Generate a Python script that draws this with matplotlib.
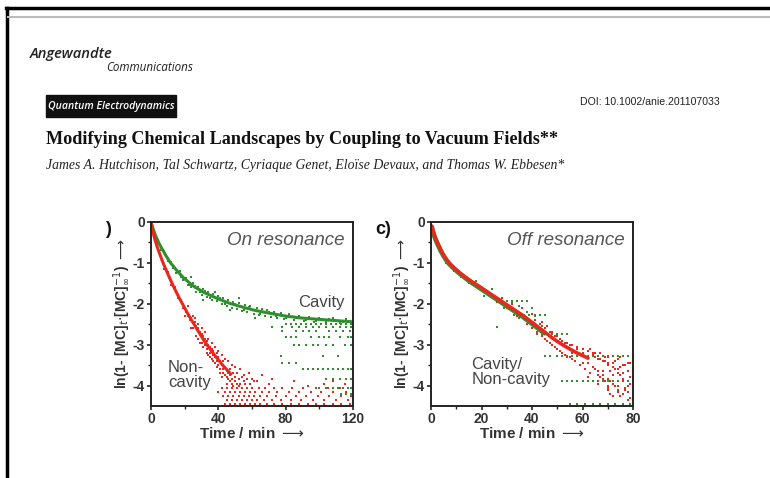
import matplotlib.pyplot as plt
import numpy as np
from matplotlib.lines import Line2D
from matplotlib.patches import Rectangle

plt.rcParams['axes.unicode_minus'] = False
plt.rcParams['font.family'] = ['Liberation Sans', 'DejaVu Sans']

W, H = 770, 478
GREEN = "#2f8f2f"
RED = "#e8281e"
TXT = "#333333"

# ---- panel b (on resonance), cavity: main band ----
on_cav_t = [0.3, 0.8, 1.2, 1.7, 2.2, 2.8, 3.3, 3.9, 4.5, 5.1, 5.8, 6.5, 7.2, 8.0, 8.8, 9.6,
            10.5, 11.3, 12.2, 13.1, 14.0, 15.0, 16.0, 17.0, 18.1, 19.2, 20.3, 21.5, 22.6, 23.8,
            25.0, 26.3, 27.6, 29.0, 30.4, 31.9, 33.4, 35.0, 36.6, 38.3, 40.0, 41.8, 43.6, 45.5,
            47.5, 49.5, 51.6, 53.7, 55.9, 58.2, 60.5, 62.9, 65.3, 67.8, 70.4, 73.0, 75.7, 78.5,
            81.3, 84.2, 87.1, 90.1, 93.2, 96.3, 99.5, 102.7, 106.0, 109.3, 112.7, 116.1, 119.5]
on_cav_y = [-0.04, -0.1, -0.16, -0.22, -0.28, -0.34, -0.39, -0.44, -0.5, -0.55, -0.6, -0.65,
            -0.7, -0.76, -0.82, -0.87, -0.93, -0.98, -1.03, -1.07, -1.12, -1.17, -1.22, -1.26,
            -1.31, -1.36, -1.4, -1.44, -1.48, -1.52, -1.56, -1.6, -1.63, -1.66, -1.7, -1.73,
            -1.76, -1.79, -1.82, -1.85, -1.88, -1.91, -1.94, -1.97, -2.0, -2.02, -2.05, -2.07,
            -2.1, -2.12, -2.15, -2.17, -2.19, -2.21, -2.23, -2.25, -2.27, -2.29, -2.31, -2.32,
            -2.34, -2.35, -2.36, -2.37, -2.38, -2.39, -2.4, -2.41, -2.42, -2.43, -2.44]
# scattered cavity points around the band
on_cav_st = [15, 17, 19, 21, 22, 24, 25, 27, 28, 30, 31, 33, 34, 36, 37, 39, 40, 42, 43, 45,
             46, 48, 49, 51, 52, 54, 56, 57, 59, 61, 63, 64, 66, 68, 69, 71, 73, 75, 77, 79,
             82, 85, 88, 91, 94, 97, 100, 104, 108, 112, 116, 119, 24, 38, 52, 31, 47, 62,
             3, 5, 6, 8, 10, 12, 13, 15, 18, 20, 23, 26, 29, 32, 35, 41, 44, 50, 55, 58, 65,
             70, 74, 80, 86, 92, 98, 106, 114]
on_cav_sy = [-1.25, -1.2, -1.42, -1.38, -1.55, -1.6, -1.48, -1.7, -1.58, -1.78, -1.65, -1.84,
             -1.7, -1.9, -1.76, -1.93, -1.8, -2.0, -1.86, -2.05, -1.9, -2.1, -1.95, -2.12, -1.98,
             -2.17, -2.02, -2.2, -2.05, -2.24, -2.1, -2.28, -2.13, -2.3, -2.16, -2.33, -2.2,
             -2.35, -2.22, -2.38, -2.26, -2.4, -2.3, -2.42, -2.32, -2.44, -2.34, -2.45, -2.36,
             -2.46, -2.38, -2.47, -1.35, -1.7, -1.85, -1.9, -2.15, -2.35,
             -0.42, -0.52, -0.68, -0.72, -0.96, -0.99, -1.12, -1.14, -1.35, -1.36, -1.55,
             -1.56, -1.72, -1.68, -1.86, -1.86, -2.0, -2.0, -2.15, -2.08, -2.24, -2.2, -2.3,
             -2.36, -2.34, -2.4, -2.41, -2.38, -2.45]
# cavity rows at late times (level, times)
on_cav_rows = [
    (-2.5, [80, 83, 86, 89, 92, 95, 98, 101, 104, 107, 110, 113, 116, 119]),
    (-2.57, [72, 78, 84, 88, 92, 96, 100, 104, 108, 112, 116, 119]),
    (-2.67, [78, 86, 90, 94, 98, 106, 110, 114, 118]),
    (-2.82, [80, 83, 86, 95, 100, 103, 106, 112, 117, 119]),
    (-3.0, [85, 88, 92, 96, 99, 104, 108, 115, 119]),
    (-3.28, [77, 102, 111]),
    (-3.44, [78, 82, 86]),
    (-3.59, [90, 93, 96, 99, 102, 105, 108, 111, 114, 117, 119]),
    (-3.83, [104, 108, 112, 116, 119]),
    (-4.05, [100, 104, 108, 111, 114, 117, 119]),
    (-4.2, [113, 116, 119]),
]

# ---- panel b, non-cavity ----
on_non_t = [0.3, 0.8, 1.3, 1.8, 2.4, 3.0, 3.6, 4.3, 5.0, 5.8, 6.6, 7.5, 8.4, 9.3, 10.3, 11.3,
            12.3, 13.4, 14.5, 15.6, 16.8, 18.0, 19.2, 20.5, 21.8, 23.1, 24.5, 25.9, 27.3, 28.8,
            30.3, 31.8, 33.4, 35.0, 36.6, 38.3, 40.0, 41.8, 43.6, 45.5, 47.4]
on_non_y = [-0.07, -0.17, -0.26, -0.35, -0.44, -0.52, -0.6, -0.68, -0.76, -0.85, -0.94, -1.03,
            -1.12, -1.2, -1.3, -1.39, -1.48, -1.58, -1.67, -1.76, -1.86, -1.95, -2.04, -2.14,
            -2.24, -2.33, -2.43, -2.52, -2.62, -2.72, -2.82, -2.92, -3.01, -3.1, -3.19, -3.28,
            -3.37, -3.46, -3.55, -3.63, -3.72]
on_non_st = [20, 22, 24, 26, 27, 28, 29, 30, 31, 32, 33, 34, 35, 36, 37, 38, 39, 40, 41, 42,
             43, 44, 45, 46, 47, 48, 49, 50, 51, 52, 53, 55, 56, 58, 60, 63, 66, 70, 72, 85,
             93, 103, 108, 115,
             25, 25, 26, 27, 28, 28, 29, 30, 30, 31, 32, 32, 33, 33, 34, 34, 35, 35, 36, 36,
             37, 37, 38, 38, 39, 39, 40, 40, 41, 41, 42, 42, 43, 43, 44, 44, 45, 45, 46, 46,
             47, 47, 48, 48, 49, 50, 50, 51, 52, 53, 54, 55, 57, 59, 61,
             5, 8, 10, 12, 14, 16, 18, 19, 21, 22, 23, 24]
on_non_sy = [-2.3, -2.05, -2.6, -2.35, -2.8, -2.5, -2.95, -2.6, -3.05, -2.7, -3.2, -2.85, -3.3,
             -2.95, -3.4, -3.05, -3.55, -3.15, -3.6, -3.25, -3.7, -3.35, -3.8, -3.4, -3.9, -3.5,
             -4.0, -3.55, -3.7, -4.0, -3.6, -3.75, -3.95, -3.7, -3.85, -3.9, -3.75, -3.95, -3.85,
             -3.9, -4.0, -3.95, -3.9, -3.95,
             -2.3, -2.6, -2.45, -2.55, -2.85, -2.6, -2.7, -2.75, -2.95, -2.8, -3.0, -2.85,
             -2.9, -3.1, -3.0, -3.25, -3.05, -3.2, -3.1, -3.35, -3.25, -3.15, -3.45, -3.3,
             -3.2, -3.4, -3.5, -3.3, -3.4, -3.7, -3.5, -3.8, -3.6, -3.4, -3.75, -3.55, -3.65,
             -3.95, -3.7, -3.85, -3.6, -3.75, -3.85, -3.95, -3.7, -3.9, -3.8, -3.95, -3.85,
             -3.95, -3.8, -3.9, -3.85, -3.95, -3.9,
             -0.72, -1.15, -1.22, -1.55, -1.6, -1.85, -1.9, -2.1, -2.2, -2.3, -2.4, -2.35]
on_non_rows = [
    (-4.05, [42, 45, 48, 51, 54, 57, 60, 64, 68, 73, 78, 84, 90, 98, 105, 112]),
    (-4.15, [40, 44, 47, 50, 53, 56, 59, 62, 66, 70, 75, 82, 88, 95, 101, 108, 116]),
    (-4.25, [43, 46, 49, 52, 55, 58, 61, 65, 69, 74, 80, 86, 92, 99, 106, 113, 119]),
    (-4.35, [45, 48, 51, 54, 57, 60, 63, 67, 72, 77, 83, 89, 96, 103, 110, 117]),
    (-4.45, [44, 47, 50, 53, 56, 59, 62, 65, 69, 73, 78, 83, 88, 93, 98, 103, 108, 113, 118]),
]

# ---- panel c (off resonance), non-cavity ----
off_non_t = [0.3, 0.7, 1.2, 1.8, 2.5, 3.3, 4.2, 5.2, 6.3, 7.5, 8.8, 10.2, 11.7, 13.2, 14.8,
             16.4, 18.0, 19.7, 21.4, 23.1, 24.8, 26.5, 28.2, 29.9, 31.6, 33.3, 35.0, 36.7, 38.4,
             40.1, 41.8, 43.5, 45.2, 46.9, 48.6, 50.3, 52.0, 53.7, 55.4, 57.1, 58.8, 60.5, 62.2]
off_non_y = [-0.1, -0.2, -0.3, -0.4, -0.5, -0.6, -0.72, -0.83, -0.93, -1.02, -1.1, -1.18, -1.26,
             -1.33, -1.4, -1.47, -1.53, -1.6, -1.67, -1.74, -1.81, -1.88, -1.95, -2.02, -2.09,
             -2.16, -2.23, -2.3, -2.38, -2.46, -2.54, -2.62, -2.7, -2.78, -2.86, -2.93, -3.0,
             -3.06, -3.12, -3.18, -3.23, -3.28, -3.33]
off_non_st = [26, 28, 30, 32, 34, 36, 38, 40, 42, 44, 45, 46, 47, 48, 49, 50, 51, 52, 53, 54,
              55, 56, 57, 58, 59, 60, 61, 62, 63, 64, 65, 66, 67, 68, 69, 70, 71, 72, 73, 74,
              75, 76, 77, 78, 79, 56, 60, 64, 68, 72, 76, 79, 62, 66, 70, 74, 78, 71, 75, 79,
              65, 69, 73, 77, 63, 67, 75, 79, 70, 74, 78,
              40, 41, 42, 43, 44, 45, 46, 47, 48, 49, 50, 51, 52, 53, 54, 55, 56, 57, 58, 59,
              60, 61, 62, 63, 64, 65, 66, 67, 68, 69, 70, 71, 72, 73, 74, 75, 76, 77, 78, 79,
              80, 62, 64, 66, 68, 70, 72, 74, 76, 78, 80, 70, 74, 78, 66, 70, 72, 76, 79, 80]
off_non_sy = [-1.95, -1.85, -2.1, -2.0, -2.3, -2.1, -2.5, -2.25, -2.7, -2.45, -2.85, -2.55,
              -2.95, -2.7, -3.05, -2.8, -3.15, -2.9, -3.25, -2.95, -3.3, -3.0, -3.4, -3.05,
              -3.5, -3.1, -3.6, -3.15, -3.7, -3.2, -3.3, -3.75, -3.35, -3.85, -3.4, -3.5, -3.9,
              -3.45, -3.6, -4.0, -3.55, -3.7, -4.05, -3.65, -3.8, -3.35, -3.45, -3.55, -3.65,
              -3.75, -3.85, -3.95, -3.8, -3.9, -4.0, -4.1, -4.15, -4.2, -4.25, -4.3, -3.2, -3.3,
              -3.4, -3.5, -3.1, -3.2, -3.3, -3.45, -4.05, -4.15, -4.35,
              -2.6, -2.4, -2.7, -2.5, -2.8, -2.6, -2.9, -2.7, -3.0, -2.8, -3.1, -2.85, -3.2,
              -2.95, -3.3, -3.0, -3.2, -3.4, -3.1, -3.5, -3.2, -3.6, -3.15, -3.7, -3.25, -3.6,
              -3.35, -3.8, -3.4, -3.9, -3.45, -3.65, -3.55, -4.0, -3.6, -3.75, -3.5, -4.1,
              -3.65, -3.8, -3.4, -3.45, -3.55, -3.65, -3.75, -3.85, -3.95, -3.7, -3.9, -4.0,
              -3.6, -3.3, -3.35, -3.45, -3.95, -4.1, -4.25, -4.2, -4.3, -3.9]

# ---- panel c, cavity ----
off_cav_t = [0.3, 0.8, 1.4, 2.1, 2.9, 3.8, 4.8, 5.9, 7.1, 8.4, 9.8, 11.3, 12.8, 14.4, 16.0,
             17.7, 19.4, 21.1, 22.8, 24.5, 26.2, 27.9, 29.6, 31.3, 33.0, 34.7, 36.4, 38.1, 39.8,
             41.5, 43.2, 44.9]
off_cav_y = [-0.12, -0.24, -0.36, -0.47, -0.58, -0.7, -0.81, -0.92, -1.02, -1.1, -1.18, -1.26,
             -1.33, -1.41, -1.48, -1.55, -1.62, -1.69, -1.76, -1.83, -1.9, -1.97, -2.04, -2.11,
             -2.18, -2.25, -2.32, -2.4, -2.48, -2.56, -2.64, -2.72]
off_cav_st = [6, 9, 12, 15, 18, 21, 24, 26, 29, 32, 35, 38, 41, 44, 40, 35]
off_cav_sy = [-1.0, -1.2, -1.35, -1.5, -1.45, -1.8, -1.65, -2.58, -2.1, -1.95, -2.35, -2.2,
              -2.3, -2.55, -2.1, -2.05]
off_cav_rows = [
    (-1.92, [28, 30, 32, 34, 36, 38]),
    (-2.27, [33, 35, 37, 39, 41, 43, 45]),
    (-2.75, [42, 44, 46, 48, 50, 52, 54]),
    (-3.28, [45, 47, 50, 52, 54, 56, 58, 60, 62, 64, 66, 68, 70, 72, 74, 76, 78, 80]),
    (-3.9, [52, 54, 56, 58, 60, 62, 64, 66, 68, 70, 72, 74, 76, 78, 80]),
    (-4.45, [55, 58, 61, 64, 67, 70, 73, 76, 79]),
]


def px(x, y):
    return x / W, 1 - y / H


fig = plt.figure(figsize=(W / 100, H / 100), dpi=100)

# page frame
fig.add_artist(Line2D([6 / W, 1], [1 - 8 / H] * 2, color="black", lw=2.5))
fig.add_artist(Line2D([7 / W] * 2, [0, 1 - 8 / H], color="black", lw=2.5))
fig.add_artist(Line2D([8 / W, 1], [1 - 17 / H] * 2, color="#bbbbbb", lw=1.5))

# header
fig.text(*px(30, 58), "Angewandte", family="Open Sans", style="italic",
         weight="semibold", fontsize=10.6, color="#222222", va="baseline")
fig.text(*px(106, 71), "Communications", family="Open Sans", style="italic",
         fontsize=8.4, color="#222222", va="baseline")
fig.add_artist(Rectangle(px(46, 117), 130 / W, 22 / H, color="#111111"))
fig.text(*px(111, 106), "Quantum Electrodynamics", family="Open Sans", style="italic",
         weight="semibold", fontsize=7.6, color="white", ha="center", va="center")
fig.text(*px(720, 102), "DOI: 10.1002/anie.201107033", family="Liberation Sans",
         fontsize=7.6, color="#222222", ha="right", va="center")
fig.text(*px(46, 139), "Modifying Chemical Landscapes by Coupling to Vacuum Fields**",
         family="Liberation Serif", weight="bold", fontsize=13.05, color="#111111", va="center")
fig.text(*px(46, 165), "James A. Hutchison, Tal Schwartz, Cyriaque Genet, Eloïse Devaux, "
         "and Thomas W. Ebbesen*", family="Liberation Serif", style="italic", fontsize=9.95,
         color="#222222", va="center")


def panel(left, xmax, xmaj, xmin):
    ax = fig.add_axes([left / W, (H - 406) / H, 202 / W, 184 / H])
    ax.set_xlim(0, xmax)
    ax.set_ylim(-4.5, 0)
    ax.set_xticks(np.arange(0, xmax + 1, xmaj))
    ax.set_xticks(np.arange(0, xmax + 1, xmin), minor=True)
    ax.set_yticks([0, -1, -2, -3, -4])
    ax.set_yticks([-0.5, -1.5, -2.5, -3.5], minor=True)
    for s in ax.spines.values():
        s.set_linewidth(1.4)
        s.set_color("#222222")
    ax.tick_params(which="major", length=3, width=1.2, colors="#222222", labelsize=10,
                   labelcolor=TXT, pad=1.5)
    ax.tick_params(which="minor", length=2, width=1, colors="#222222")
    for lab in ax.get_xticklabels() + ax.get_yticklabels():
        lab.set_fontweight("bold")
    ax.set_xlabel("Time / min $\\longrightarrow$", fontsize=11, fontweight="bold",
                  color=TXT, labelpad=0)
    ax.set_ylabel("ln(1- [MC]$_t$$\\cdot$[MC]$_\\infty^{-1}$) $\\longrightarrow$",
                  fontsize=10, fontweight="bold", color=TXT, labelpad=0)
    return ax


def draw(ax, bt, by, st, sy, rows, color, lw=2.2):
    ax.plot(bt, by, color=color, lw=lw, solid_capstyle="round", zorder=2)
    ax.scatter(st, sy, s=4, color=color, marker="s", lw=0, zorder=2)
    for level, ts in rows:
        ax.scatter(ts, np.full(len(ts), level), s=4, color=color, marker="s", lw=0, zorder=2)


ax1 = panel(151, 120, 40, 20)
draw(ax1, on_cav_t, on_cav_y, on_cav_st, on_cav_sy, on_cav_rows, GREEN)
draw(ax1, on_non_t, on_non_y, on_non_st, on_non_sy, on_non_rows, RED)
ax1.text(115, -0.45, "On resonance", style="italic", fontsize=13.5, color="#555555",
         ha="right", va="center")
ax1.text(115, -1.98, "Cavity", fontsize=12, color="#444444", ha="right", va="center")
ax1.text(10, -3.75, "Non-\ncavity", fontsize=12, color="#444444", ha="left", va="center",
         linespacing=1.0)

ax2 = panel(431, 80, 20, 10)
draw(ax2, off_cav_t, off_cav_y, off_cav_st, off_cav_sy, off_cav_rows, GREEN, lw=3.4)
draw(ax2, off_non_t, off_non_y, off_non_st, off_non_sy, [], RED, lw=2.6)
ax2.text(76.8, -0.45, "Off resonance", style="italic", fontsize=13.5, color="#555555",
         ha="right", va="center")
ax2.text(16, -3.68, "Cavity/\nNon-cavity", fontsize=12, color="#444444", ha="left",
         va="center", linespacing=1.0)

fig.text(*px(105, 229), ")", fontsize=13, weight="bold", color="#111111", va="center")
fig.text(*px(375, 229), "c)", fontsize=13, weight="bold", color="#111111", va="center")

fig.savefig("out.png", dpi=100)
